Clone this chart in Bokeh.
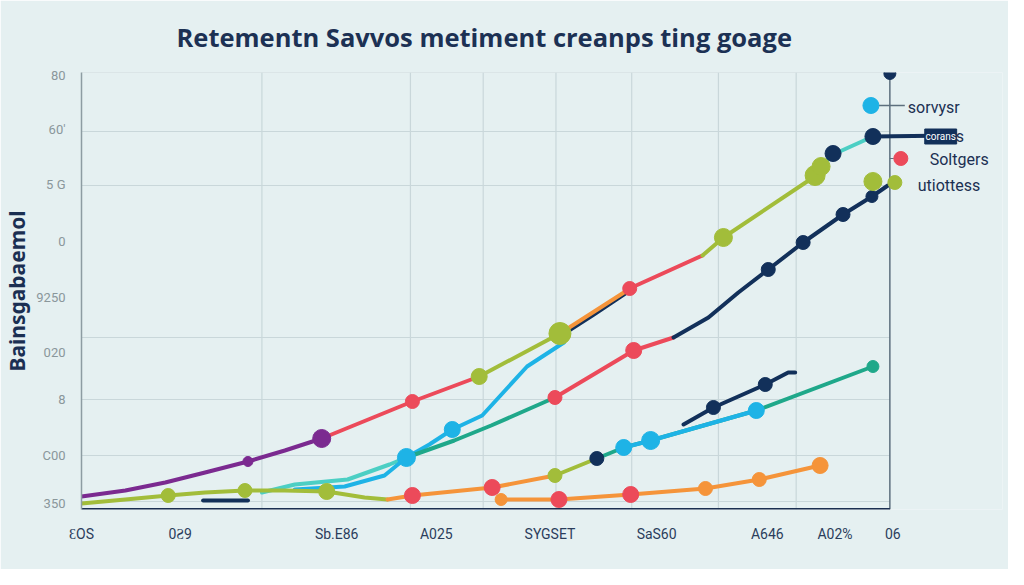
from bokeh.plotting import figure
from bokeh.models import Range1d, FixedTicker
from bokeh.core.properties import value
from bokeh.embed import file_html
from bokeh.resources import INLINE

# ---------------- data (x, y in chart units) ----------------
title_text = "Retementn Savvos metiment creanps ting goage"
y_label = "Bainsgabaemol"

x_tick_pos = [0, 99, 256, 356, 470, 577, 688, 756, 814]
x_tick_labels = ["ƐOS", "0Ƨ9", "Sb.E86", "A025", "SYGSET", "SaS60", "A646", "A02%", "06"]
y_tick_pos = [434, 380, 325, 268, 212, 157, 110, 54, 6]
y_tick_labels = ["80", "60'", "5 G", "0", "9250", "020", "8", "C00", "350"]
x_grid_pos = [181, 330, 403, 476, 552, 639, 717]
y_grid_pos = [437, 378, 324, 172, 110, 54, 8]

# upper path
purple_x = [0, 44, 84, 124, 167, 204, 241]
purple_y = [13, 19, 27, 37, 48, 59, 71]
red_up_x = [241, 332, 399]
red_up_y = [71, 108, 133]
green_up_x = [399, 480]
green_up_y = [133, 176]
orange_up_x = [480, 552]
orange_up_y = [176, 222]
red_up2_x = [552, 623]
red_up2_y = [222, 254]
green_up2_x = [623, 644, 737, 744]
green_up2_y = [254, 272, 334, 342]
teal_up_x = [744, 754, 794]
teal_up_y = [345, 355, 373]
navy_top_x = [794, 874]
navy_top_y = [373, 374]
navy_up_x = [489, 514, 550]
navy_up_y = [179, 195, 219]

# cyan / teal rise
cyan_x = [214, 264, 304, 326, 349, 372, 402, 447, 484]
cyan_y = [20, 23, 34, 52, 65, 80, 94, 143, 167]
teal_s_x = [181, 214, 267, 309, 326]
teal_s_y = [17, 25, 30, 45, 52]
teal_mid_x = [326, 374, 411, 475]
teal_mid_y = [52, 69, 84, 112]
red_mid_x = [475, 554, 594]
red_mid_y = [112, 159, 172]
navy_mid_x = [594, 629, 659, 689, 724, 764, 793, 809]
navy_mid_y = [172, 192, 217, 240, 267, 295, 313, 324]

# lower paths
green_low_x = [0, 44, 87, 124, 164, 204, 246, 284, 307]
green_low_y = [6, 10, 14, 17, 19, 19, 18, 12, 10]
navy_low_x = [122, 167]
navy_low_y = [9, 9]
orange_low_x = [307, 332, 412, 475]
orange_low_y = [10, 14, 22, 34]
green_low2_x = [475, 517]
green_low2_y = [34, 51]
teal_low_x = [517, 544, 571, 677, 794]
teal_low_y = [51, 62, 69, 99, 143]
cyan_low_x = [544, 571, 677]
cyan_low_y = [62, 69, 99]
navy_low2_x = [604, 634, 686, 709, 716]
navy_low2_y = [85, 102, 125, 137, 137]
orange_bot_x = [421, 479, 551, 626, 680, 741]
orange_bot_y = [10, 10, 15, 21, 30, 44]

# markers: x, y, diameter, colour key
mk_x = [167, 241, 332, 399, 480, 550, 644, 736, 742, 754, 794,
        326, 372, 475, 554, 689, 724, 764, 793, 794, 816,
        87, 164, 246, 332, 412, 475, 517, 544, 571, 677, 794, 634, 686,
        421, 479, 551, 626, 680, 741]
mk_y = [48, 71, 108, 133, 176, 221, 272, 334, 343, 356, 373,
        52, 80, 112, 159, 240, 267, 295, 313, 328, 327,
        14, 19, 18, 14, 22, 34, 51, 62, 69, 99, 143, 102, 125,
        10, 10, 15, 21, 30, 44]
mk_d = [10, 18, 14, 16, 22, 14, 18, 20, 18, 16, 16,
        18, 16, 14, 16, 14, 14, 14, 12, 18, 14,
        14, 14, 16, 16, 16, 14, 14, 16, 18, 16, 12, 14, 14,
        12, 16, 16, 14, 14, 16]
mk_c = ["purple", "purple", "red", "green", "green", "red", "green", "green", "green", "navy", "navy",
        "cyan", "cyan", "red", "red", "navy", "navy", "navy", "navy", "green", "green",
        "green", "green", "green", "red", "red", "green", "navy", "cyan", "cyan", "cyan", "teal", "navy", "navy",
        "orange", "red", "red", "orange", "orange", "orange"]

# legend-like annotations at right
leg_dot_x = [811, 792, 822]
leg_dot_y = [436, 404, 351]
leg_dot_d = [12, 16, 14]
leg_dot_c = ["navy", "cyan", "red"]
leg_text = ["sorvysr", "s", "Soltgers", "utiottess"]
leg_text_x = [829, 877, 851, 839]
leg_text_y = [402, 373, 350, 324]

COL = {"purple": "#7b2a90", "red": "#ec4a5a", "green": "#a2bd3a", "orange": "#f5943a",
       "navy": "#12305a", "cyan": "#1eb3e6", "teal": "#1fa88a", "lteal": "#4ccfc4"}
BG = "#e5f0f1"

p = figure(width=1008, height=569, x_range=Range1d(0, 924), y_range=Range1d(0, 437),
           output_backend="svg", toolbar_location=None,
           min_border_left=78, min_border_right=6, min_border_top=72, min_border_bottom=60,
           background_fill_color=BG, border_fill_color=BG, outline_line_color=None)

p.title.text = title_text
p.title.text_font = "Open Sans"
p.title.text_font_style = "bold"
p.title.text_font_size = "25.5px"
p.title.text_color = "#1c3154"
p.title.align = "left"
p.title.offset = 95
p.title.vertical_align = "top"
p.title.standoff = 34

p.xgrid.visible = False
p.ygrid.visible = False

# grid lines
p.segment(x0=x_grid_pos, y0=[0] * len(x_grid_pos), x1=x_grid_pos, y1=[437] * len(x_grid_pos),
          line_color="#c9d7da", line_width=1.2)
p.segment(x0=[0] * len(y_grid_pos), y0=y_grid_pos, x1=[811] * len(y_grid_pos), y1=y_grid_pos,
          line_color="#c9d7da", line_width=1.2)
# right vertical line and bottom axis line
p.segment(x0=[811], y0=[0], x1=[811], y1=[436], line_color="#5d6f7e", line_width=1.5)
p.segment(x0=[0], y0=[0], x1=[811], y1=[0], line_color="#1a2e50", line_width=3)

# axes
p.xaxis.ticker = FixedTicker(ticks=x_tick_pos)
p.xaxis.major_label_overrides = {float(k): v for k, v in zip(x_tick_pos, x_tick_labels)}
p.xaxis.axis_line_color = None
p.xaxis.major_tick_line_color = None
p.xaxis.minor_tick_line_color = None
p.xaxis.major_label_text_font = "Roboto"
p.xaxis.major_label_text_font_size = "14px"
p.xaxis.major_label_text_color = "#2b3d5c"
p.xaxis.major_label_standoff = 10

p.yaxis.ticker = FixedTicker(ticks=y_tick_pos)
p.yaxis.major_label_overrides = {float(k): v for k, v in zip(y_tick_pos, y_tick_labels)}
p.yaxis.axis_line_color = "#8d9ca2"
p.yaxis.axis_line_width = 1.5
p.yaxis.major_tick_line_color = None
p.yaxis.minor_tick_line_color = None
p.yaxis.major_label_text_font = "Roboto"
p.yaxis.major_label_text_font_size = "13px"
p.yaxis.major_label_text_color = "#8a979b"
p.yaxis.major_label_standoff = 10
p.yaxis.axis_label = y_label
p.yaxis.axis_label_text_font = "Noto Sans"
p.yaxis.axis_label_text_font_size = "21px"
p.yaxis.axis_label_text_font_style = "bold"
p.yaxis.axis_label_text_color = "#1b2f52"
p.yaxis.axis_label_standoff = 2

W = 4
lines = [
    (teal_s_x, teal_s_y, "lteal"), (cyan_x, cyan_y, "cyan"),
    (purple_x, purple_y, "purple"), (red_up_x, red_up_y, "red"),
    (navy_up_x, navy_up_y, "navy"),
    (green_up_x, green_up_y, "green"), (orange_up_x, orange_up_y, "orange"),
    (red_up2_x, red_up2_y, "red"), (green_up2_x, green_up2_y, "green"),
    (teal_up_x, teal_up_y, "lteal"), (navy_top_x, navy_top_y, "navy"),
    (teal_mid_x, teal_mid_y, "teal"), (red_mid_x, red_mid_y, "red"),
    (navy_mid_x, navy_mid_y, "navy"),
    (green_low_x, green_low_y, "green"), (navy_low_x, navy_low_y, "navy"),
    (orange_low_x, orange_low_y, "orange"), (green_low2_x, green_low2_y, "green"),
    (teal_low_x, teal_low_y, "teal"), (cyan_low_x, cyan_low_y, "cyan"),
    (navy_low2_x, navy_low2_y, "navy"), (orange_bot_x, orange_bot_y, "orange"),
]
for xs, ys, c in lines:
    p.line(xs, ys, line_color=COL[c], line_width=W, line_cap="round", line_join="round")

p.scatter(mk_x, mk_y, size=mk_d, fill_color=[COL[c] for c in mk_c],
          line_color=[COL[c] for c in mk_c])

# legend-like annotations
p.segment(x0=[800], y0=[404], x1=[826], y1=[404], line_color="#5d6f7e", line_width=1.5)
p.segment(x0=[811], y0=[351], x1=[815], y1=[351], line_color="#5d6f7e", line_width=1)
p.scatter(leg_dot_x, leg_dot_y, size=leg_dot_d, fill_color=[COL[c] for c in leg_dot_c],
          line_color=[COL[c] for c in leg_dot_c])
p.rect(x=[862], y=[373], width=32, height=15, fill_color=COL["navy"], line_color=COL["navy"])
p.text(x=[862], y=[373], text=["corans"], text_color="white", text_font_size="10px",
       text_align="center", text_baseline="middle", text_font=value("Roboto"))
p.text(x=leg_text_x, y=leg_text_y, text=leg_text, text_color="#1b2f52", text_font_size="16px",
       text_align="left", text_baseline="middle", text_font=value("Roboto"))

open("out.html", "w").write(file_html(p, INLINE))
